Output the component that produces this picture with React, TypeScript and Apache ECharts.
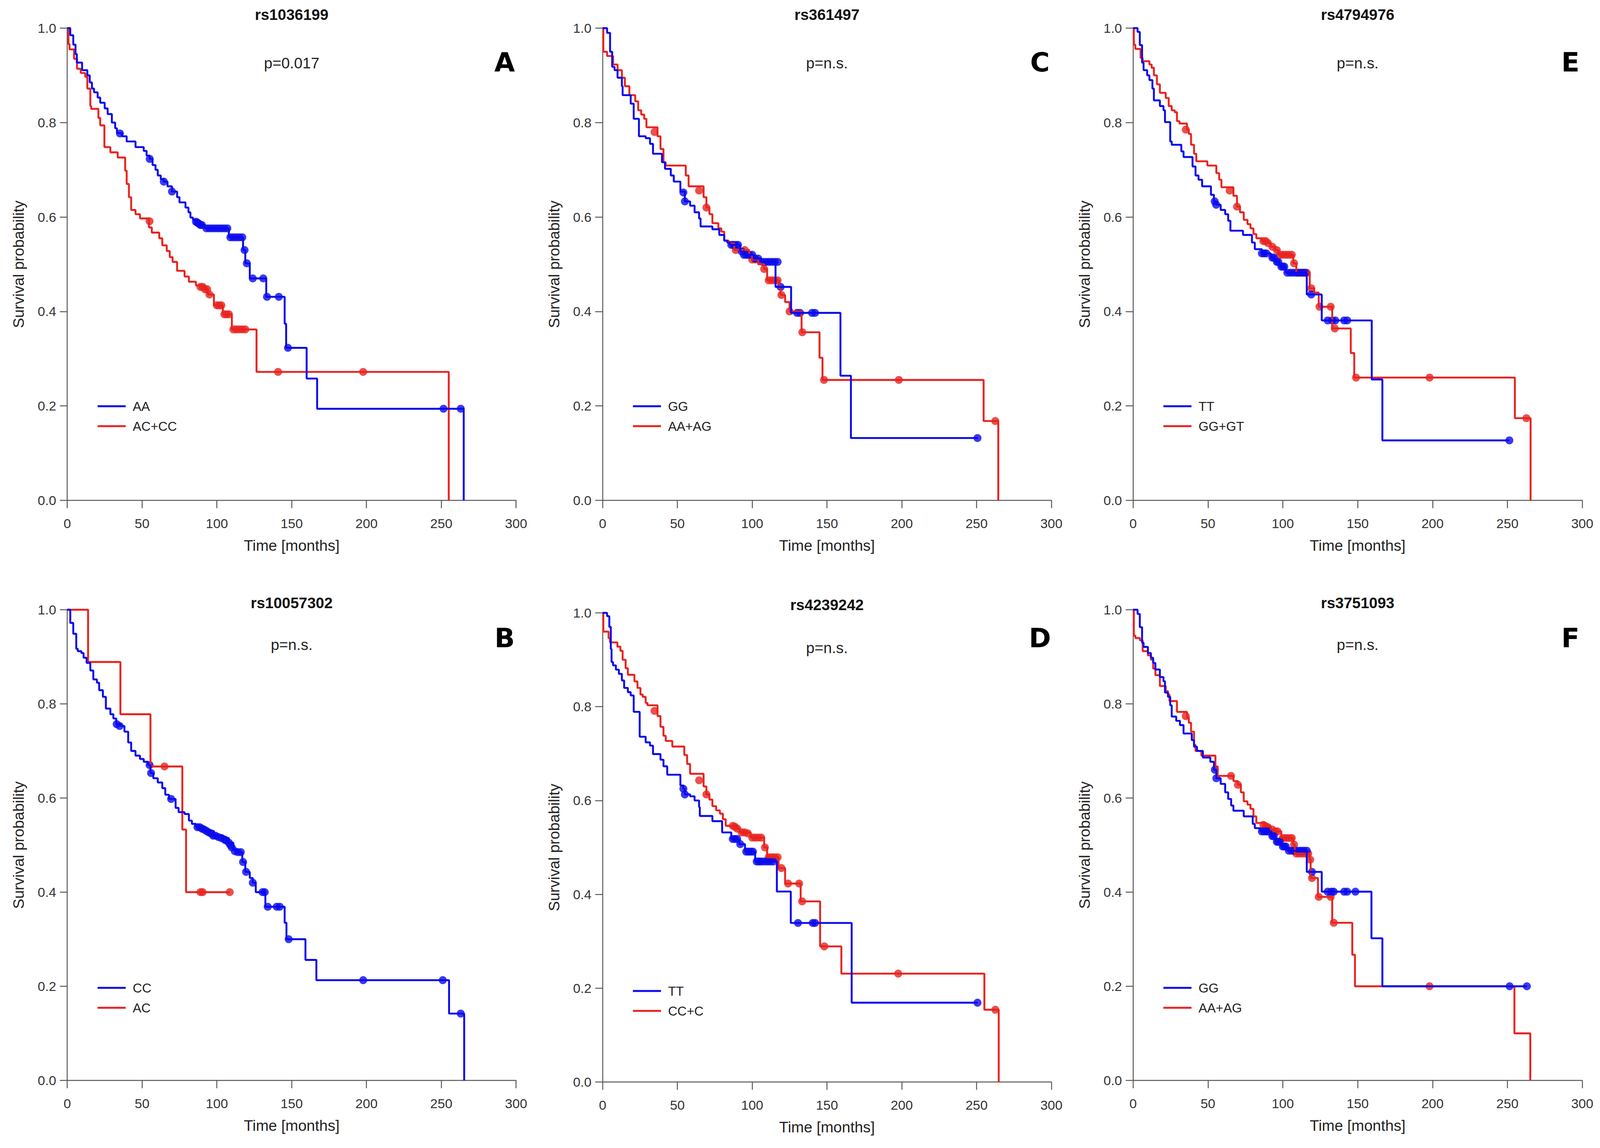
import React, { useEffect, useRef } from "react";
import * as echarts from "echarts";

const BLUE = "#0a0aee";
const RED = "#e8231f";
const FONT = "'Liberation Sans', Arial, sans-serif";
const REF_W = 4328;
const REF_H = 2939;

const xTicks = [0, 50, 100, 150, 200, 250, 300];
const yTicks = [0, 0.2, 0.4, 0.6, 0.8, 1.0];

// ---------- Panel A: rs1036199 ----------
const aBlue = [[0,1],[2,0.985],[4,0.965],[5.5,0.945],[6.4,0.927],[9.9,0.911],[13.4,0.9],[15,0.885],[16.5,0.872],[17.9,0.864],[20.3,0.853],[22,0.842],[25,0.83],[27,0.818],[29.8,0.8],[32,0.788],[33.2,0.778],[36.5,0.771],[39.7,0.76],[45.6,0.748],[51.1,0.74],[53,0.73],[55.1,0.723],[57,0.71],[59,0.7],[60.5,0.688],[62.5,0.68],[64.5,0.675],[67,0.665],[70,0.654],[73.4,0.642],[75,0.631],[79,0.62],[81,0.61],[82.3,0.599],[84,0.594],[87,0.588],[89,0.583],[92,0.576],[108,0.557],[117.5,0.53],[119,0.502],[122,0.47],[133,0.431],[145.3,0.374],[146.3,0.323],[160,0.258],[167,0.194],[265,0]];
const aBlueCens = [[35.2,0.777],[55.1,0.723],[64.5,0.675],[70,0.654],[86,0.59],[87,0.588],[88,0.586],[89,0.583],[90,0.583],[93,0.576],[95,0.576],[97,0.576],[99,0.576],[101,0.576],[103,0.576],[105,0.576],[107,0.576],[109,0.557],[111,0.557],[113,0.557],[115,0.557],[117,0.557],[118.5,0.53],[120,0.502],[124,0.47],[131,0.47],[133.5,0.431],[141.4,0.431],[147.5,0.323],[251.5,0.194],[263,0.194]];
const aRed = [[0,1],[0.8,0.966],[1.5,0.955],[4.5,0.935],[6.5,0.914],[9,0.905],[12,0.897],[13.4,0.872],[15.4,0.835],[16,0.829],[20.8,0.81],[22,0.794],[24.8,0.748],[28.8,0.737],[33.7,0.726],[38.7,0.698],[39.7,0.67],[41.2,0.642],[42.7,0.615],[45.6,0.606],[48.6,0.597],[54.6,0.578],[56.5,0.567],[61.5,0.555],[63.5,0.54],[66.5,0.528],[68.5,0.515],[70.4,0.505],[73.4,0.486],[78.4,0.474],[81.3,0.463],[86,0.455],[92,0.447],[94,0.436],[98,0.413],[104,0.394],[110,0.362],[126.5,0.272],[255,0]];
const aRedCens = [[55,0.591],[89,0.452],[90.5,0.452],[92,0.447],[93.5,0.447],[95,0.436],[100,0.413],[101.5,0.413],[103,0.413],[105,0.394],[106.5,0.394],[108,0.394],[111,0.362],[113,0.362],[115,0.362],[117,0.362],[119,0.362],[140.9,0.272],[197.8,0.272]];

// ---------- Panel C: rs361497 ----------
const cBlue = [[0,1],[1.5,1],[3,0.99],[5,0.95],[6.4,0.918],[8,0.911],[10,0.895],[12.9,0.877],[13.4,0.858],[18.8,0.84],[20.8,0.808],[24.3,0.771],[28.8,0.767],[31.7,0.755],[33.7,0.734],[39.7,0.716],[41.7,0.702],[45.6,0.688],[47.6,0.675],[52,0.654],[55,0.633],[58.5,0.624],[61.5,0.61],[64.5,0.597],[65.5,0.58],[73.4,0.574],[78,0.562],[81.3,0.55],[83.3,0.546],[85,0.541],[92,0.527],[95,0.52],[101,0.512],[106,0.505],[115.6,0.452],[126,0.397],[159,0.264],[166,0.132],[251,0.132]];
const cBlueCens = [[54,0.652],[55,0.633],[86,0.541],[87.5,0.541],[89,0.541],[90.5,0.541],[93,0.527],[94.5,0.52],[96,0.52],[98,0.52],[100,0.52],[102,0.512],[104,0.512],[107,0.505],[109,0.505],[111,0.505],[113,0.505],[115,0.505],[117,0.505],[119,0.452],[130,0.397],[132,0.397],[140,0.397],[142,0.397],[250.6,0.132]];
const cRed = [[0,1],[0.5,0.95],[3,0.941],[7,0.923],[10,0.911],[12.9,0.895],[14.9,0.877],[17.9,0.858],[21.8,0.845],[23.8,0.826],[25.8,0.817],[27.8,0.808],[29.3,0.79],[36.7,0.771],[38.7,0.744],[40.7,0.716],[42.2,0.709],[55.6,0.688],[57.5,0.665],[67.5,0.642],[69.4,0.62],[71.4,0.606],[73.4,0.587],[77.4,0.576],[79.4,0.569],[81.3,0.55],[84.3,0.544],[88,0.53],[98,0.52],[100,0.51],[104,0.5],[108,0.49],[110,0.466],[118,0.45],[119,0.435],[122,0.42],[125,0.4],[133,0.356],[145,0.302],[147,0.255],[254.7,0.168],[264.5,0]];
const cRedCens = [[34.7,0.78],[64.5,0.656],[69.4,0.62],[89,0.53],[95,0.53],[97,0.52],[100,0.51],[102,0.51],[108,0.49],[111,0.466],[113,0.466],[115,0.466],[117,0.466],[119.5,0.435],[125,0.4],[133.5,0.356],[148,0.255],[198,0.255],[262.5,0.168]];

// ---------- Panel E: rs4794976 ----------
const eBlue = [[0,1],[1.5,1],[3,0.992],[4.5,0.964],[6,0.927],[7,0.911],[9.4,0.9],[10.9,0.89],[12.9,0.872],[13.9,0.847],[17.9,0.835],[20.3,0.826],[21.3,0.801],[24.8,0.76],[25.8,0.753],[32.2,0.739],[33.7,0.727],[39.7,0.707],[41.7,0.688],[43.7,0.679],[46.1,0.665],[52,0.647],[54,0.633],[55.6,0.626],[58.5,0.615],[61.5,0.606],[63.5,0.592],[65,0.571],[73.4,0.562],[79.4,0.546],[81.3,0.532],[86,0.523],[92,0.514],[95,0.505],[98,0.495],[102,0.482],[116,0.436],[126,0.381],[159.4,0.256],[166.5,0.127],[251.3,0.127]];
const eBlueCens = [[54.5,0.633],[55.5,0.626],[86,0.523],[87.5,0.523],[89,0.523],[93,0.514],[94,0.514],[96,0.505],[97,0.505],[99,0.495],[100,0.495],[101,0.495],[103,0.482],[105,0.482],[107,0.482],[109,0.482],[111,0.482],[113,0.482],[115,0.482],[119,0.436],[130,0.381],[133,0.381],[135,0.381],[141,0.381],[143,0.381],[251.3,0.127]];
const eRed = [[0,1],[0.5,0.965],[1.5,0.956],[5,0.937],[6.4,0.93],[10.9,0.923],[12.4,0.916],[13.9,0.9],[15.9,0.881],[17.9,0.863],[21.8,0.852],[23.8,0.835],[25.8,0.826],[27.8,0.822],[29.3,0.803],[31,0.798],[36,0.785],[37.2,0.776],[38.7,0.753],[40.7,0.734],[42.2,0.718],[49.6,0.709],[55.6,0.693],[57.5,0.679],[59,0.663],[67,0.645],[69.4,0.622],[71.4,0.61],[73.9,0.594],[76.4,0.585],[78.4,0.576],[80.4,0.564],[82.3,0.555],[86,0.549],[90,0.545],[92,0.537],[95,0.53],[97,0.52],[107,0.502],[109,0.482],[118,0.449],[121,0.44],[124,0.41],[133,0.364],[145.4,0.312],[147.7,0.26],[255,0.174],[265.5,0]];
const eRedCens = [[35.2,0.785],[64.5,0.656],[69.4,0.622],[87,0.549],[88.5,0.549],[90,0.545],[93,0.537],[96,0.53],[98,0.52],[100,0.52],[102,0.52],[104,0.52],[106,0.52],[107.5,0.502],[110,0.482],[112,0.482],[114,0.482],[116,0.482],[119,0.449],[124.5,0.41],[132,0.41],[134.7,0.364],[148.9,0.26],[198,0.26],[262.7,0.174]];

// ---------- Panel B: rs10057302 ----------
const bBlue = [[0,1],[2,0.972],[4,0.949],[6,0.917],[7,0.912],[9.4,0.908],[10.9,0.898],[12.9,0.887],[15.4,0.871],[17.4,0.852],[19.8,0.845],[21.3,0.829],[23.8,0.815],[25.8,0.79],[28.8,0.778],[30.8,0.769],[32.7,0.757],[35.7,0.753],[38.2,0.741],[40.7,0.718],[42.7,0.7],[45.6,0.69],[48.6,0.683],[51.1,0.677],[54,0.67],[55.6,0.653],[57.5,0.642],[60.5,0.633],[63.5,0.621],[65.5,0.607],[68,0.598],[72.4,0.579],[74.4,0.57],[78.4,0.566],[81.3,0.552],[83.3,0.545],[86,0.538],[92,0.53],[98,0.52],[104,0.515],[108,0.505],[111,0.49],[113,0.485],[117,0.464],[119,0.443],[122,0.43],[124,0.42],[126,0.4],[132.4,0.369],[145.3,0.335],[146.5,0.3],[159.2,0.256],[166.5,0.213],[255.2,0.142],[265.3,0]];
const bBlueCens = [[33,0.757],[35,0.753],[55,0.67],[56,0.653],[69.4,0.598],[87,0.538],[88.5,0.538],[90,0.535],[91.5,0.533],[93,0.53],[94.5,0.527],[96,0.525],[97.5,0.52],[99,0.52],[101,0.517],[103,0.515],[105,0.512],[106,0.51],[108,0.505],[109,0.5],[110,0.495],[112,0.487],[114,0.485],[116,0.485],[117.5,0.464],[119.5,0.443],[124,0.42],[130.5,0.4],[132,0.4],[134,0.369],[140,0.369],[142,0.369],[148,0.3],[197.8,0.213],[251,0.213],[263,0.142]];
const bRed = [[0,1],[13.9,0.889],[35.5,0.778],[55.6,0.667],[76.9,0.533],[79.4,0.4],[108.6,0.4]];
const bRedCens = [[65,0.667],[89,0.4],[90.5,0.4],[108.6,0.4]];

// ---------- Panel D: rs4239242 ----------
const dBlue = [[0,1],[1.5,1],[3,0.993],[4.5,0.97],[5.5,0.923],[6,0.895],[7,0.888],[8.9,0.879],[10.9,0.87],[12.9,0.856],[14.4,0.84],[16.9,0.831],[18.8,0.824],[20.8,0.789],[24.8,0.736],[28.8,0.724],[31.7,0.717],[33.7,0.699],[38.7,0.687],[40.7,0.673],[43.2,0.655],[52,0.632],[54,0.625],[55,0.613],[58.5,0.609],[61.5,0.6],[64.5,0.586],[65,0.567],[73.4,0.556],[79.9,0.532],[86,0.518],[91.3,0.507],[95.2,0.491],[102,0.47],[116.5,0.406],[125.8,0.339],[166.5,0.169],[250.6,0.169]];
const dBlueCens = [[54,0.625],[55,0.613],[87,0.518],[88.5,0.518],[90,0.518],[92,0.507],[96,0.491],[97.5,0.491],[99,0.491],[100.5,0.491],[103,0.47],[104.5,0.47],[106,0.47],[108,0.47],[110,0.47],[112,0.47],[114,0.47],[130.6,0.339],[140.5,0.339],[142,0.339],[250.6,0.169]];
const dRed = [[0,1],[0.5,0.96],[4,0.946],[5,0.937],[9.9,0.928],[11.9,0.919],[13.4,0.9],[15.4,0.882],[16.9,0.868],[21.3,0.854],[23.3,0.84],[25.3,0.826],[26.8,0.821],[28.8,0.808],[30,0.803],[36.7,0.78],[38.7,0.757],[40.7,0.738],[42.2,0.727],[46.6,0.715],[54.6,0.697],[56.5,0.678],[58.5,0.657],[67.5,0.63],[69.4,0.613],[71.4,0.602],[73.4,0.588],[75.9,0.579],[78.4,0.572],[80.4,0.56],[82.3,0.546],[90,0.54],[92,0.532],[99,0.521],[108,0.5],[110,0.479],[117.6,0.456],[122,0.423],[132.4,0.385],[145.4,0.289],[159.6,0.231],[255.2,0.154],[264.8,0]];
const dRedCens = [[34.7,0.791],[64.5,0.643],[69.4,0.613],[87,0.546],[88.5,0.544],[90,0.54],[93,0.532],[95,0.532],[97,0.53],[100,0.521],[102,0.521],[104,0.521],[106,0.521],[108.5,0.5],[111,0.479],[113,0.479],[115,0.479],[117,0.479],[119.5,0.456],[124,0.423],[131.4,0.423],[133.4,0.385],[148.2,0.289],[197.6,0.231],[262.5,0.154]];

// ---------- Panel F: rs3751093 ----------
const fBlue = [[0,1],[2,1],[3,0.991],[4.5,0.963],[6,0.93],[7,0.921],[9.9,0.908],[11.9,0.898],[13.4,0.887],[14.9,0.873],[17.9,0.857],[20.3,0.848],[21.3,0.824],[23.3,0.815],[24.8,0.797],[25.8,0.773],[28.8,0.764],[31.3,0.755],[33.7,0.737],[39.2,0.723],[40.7,0.709],[42.7,0.7],[46.6,0.686],[51.6,0.677],[54,0.66],[55.6,0.642],[58.5,0.63],[61.5,0.612],[63.5,0.598],[65.5,0.584],[67,0.573],[73.9,0.561],[79.9,0.545],[81.3,0.536],[85,0.529],[92,0.519],[95,0.507],[99,0.497],[103,0.488],[116,0.443],[126,0.401],[159.2,0.302],[166.5,0.2],[263,0.2]];
const fBlueCens = [[54.6,0.66],[55.6,0.642],[86,0.529],[87.5,0.529],[89,0.529],[90.5,0.529],[93,0.519],[94,0.519],[96,0.507],[97,0.507],[98,0.507],[100,0.497],[101,0.497],[102,0.497],[104,0.488],[106,0.488],[108,0.488],[110,0.488],[112,0.488],[114,0.488],[116,0.488],[119.5,0.443],[130,0.401],[132.5,0.401],[134,0.401],[141,0.401],[143,0.401],[148.5,0.401],[251.5,0.2],[263,0.2]];
const fRed = [[0,1],[0.5,0.945],[1.5,0.94],[4.5,0.935],[6.4,0.912],[9.9,0.903],[11.9,0.894],[13.4,0.875],[14.9,0.861],[17.9,0.838],[21.8,0.827],[23.3,0.82],[24.3,0.806],[29.3,0.783],[36,0.771],[37.2,0.76],[38.7,0.741],[40.7,0.713],[41.7,0.7],[45.6,0.69],[55,0.667],[56.5,0.647],[67,0.636],[70,0.628],[72,0.612],[73.9,0.593],[76.4,0.586],[78.4,0.577],[80.4,0.561],[82.3,0.547],[88,0.54],[92,0.533],[95,0.529],[99,0.515],[107,0.501],[108,0.482],[118,0.469],[118.6,0.43],[123.5,0.39],[133,0.335],[146.4,0.267],[148.2,0.2],[254.7,0.1],[265.3,0]];
const fRedCens = [[35.2,0.774],[65.4,0.647],[70,0.628],[87,0.543],[88.5,0.54],[90,0.538],[93,0.533],[95,0.529],[96.5,0.529],[100,0.515],[102,0.515],[104,0.515],[106,0.515],[107.5,0.501],[109,0.482],[111,0.482],[113,0.482],[115,0.482],[117,0.482],[118.3,0.469],[119.5,0.43],[124,0.39],[132,0.39],[134,0.335],[198,0.2]];

const titles = ["rs1036199", "rs361497", "rs4794976", "rs10057302", "rs4239242", "rs3751093"];
const pValues = ["p=0.017", "p=n.s.", "p=n.s.", "p=n.s.", "p=n.s.", "p=n.s."];
const letters = ["A", "C", "E", "B", "D", "F"];
const blueNames = ["AA", "GG", "TT", "CC", "TT", "GG"];
const redNames = ["AC+CC", "AA+AG", "GG+GT", "AC", "CC+C", "AA+AG"];
const blueCurves = [aBlue, cBlue, eBlue, bBlue, dBlue, fBlue];
const blueCensored = [aBlueCens, cBlueCens, eBlueCens, bBlueCens, dBlueCens, fBlueCens];
const redCurves = [aRed, cRed, eRed, bRed, dRed, fRed];
const redCensored = [aRedCens, cRedCens, eRedCens, bRedCens, dRedCens, fRedCens];

// layout in reference pixels (scaled to the actual viewport at runtime)
const boxes = [
  { left: 182, top: 72, width: 1214, height: 1209 },
  { left: 1630, top: 72, width: 1214, height: 1209 },
  { left: 3065, top: 72, width: 1215, height: 1209 },
  { left: 182, top: 1561, width: 1214, height: 1205 },
  { left: 1630, top: 1569, width: 1214, height: 1201 },
  { left: 3065, top: 1561, width: 1215, height: 1205 },
];
const titleY = [37, 37, 37, 1543, 1548, 1543];
const letterY = [159, 159, 159, 1633, 1633, 1633];

export default function App() {
  const ref = useRef<HTMLDivElement>(null);
  useEffect(() => {
    const el = ref.current;
    if (!el) return;
    const cw = el.clientWidth || REF_W;
    const chH = el.clientHeight || REF_H;
    const sx = cw / REF_W;
    const sy = chH / REF_H;
    const s = (sx + sy) / 2;
    const chart = echarts.init(el, undefined, { renderer: "svg", width: cw, height: chH });
    const grids: any[] = [];
    const xAxes: any[] = [];
    const yAxes: any[] = [];
    const series: any[] = [];
    const graphics: any[] = [];
    const axisColor = "#555";
    boxes.forEach((b0, i) => {
      const b = { left: b0.left * sx, top: b0.top * sy, width: b0.width * sx, height: b0.height * sy };
      grids.push({ left: b.left, top: b.top, width: b.width, height: b.height, containLabel: false });
      xAxes.push({
        type: "value", gridIndex: i, min: 0, max: 300, interval: 50,
        axisLine: { show: true, onZero: false, lineStyle: { color: axisColor, width: 2.5 * s } },
        axisTick: { show: true, length: 20 * sy, inside: false, lineStyle: { color: axisColor, width: 2.5 * s } },
        axisLabel: { fontSize: 35 * s, color: "#333", margin: 42 * sy, fontFamily: FONT },
        splitLine: { show: false },
        name: "Time [months]", nameLocation: "middle", nameGap: 96 * sy,
        nameTextStyle: { fontSize: 40 * s, color: "#222", fontFamily: FONT },
      });
      yAxes.push({
        type: "value", gridIndex: i, min: 0, max: 1, interval: 0.2,
        axisLine: { show: true, onZero: false, lineStyle: { color: axisColor, width: 2.5 * s } },
        axisTick: { show: true, length: 20 * sx, inside: false, lineStyle: { color: axisColor, width: 2.5 * s } },
        axisLabel: { fontSize: 35 * s, color: "#333", margin: 30 * sx, fontFamily: FONT, formatter: (v: number) => v.toFixed(1) },
        splitLine: { show: false },
        name: "Survival probability", nameLocation: "middle", nameGap: 111 * sx,
        nameTextStyle: { fontSize: 40 * s, color: "#222", fontFamily: FONT },
      });
      const lineBase = { type: "line", step: "end", xAxisIndex: i, yAxisIndex: i, showSymbol: false, symbol: "none", silent: true, clip: false };
      series.push({ ...lineBase, name: redNames[i], data: redCurves[i], lineStyle: { color: RED, width: 5 * s }, itemStyle: { color: RED } });
      series.push({ ...lineBase, name: blueNames[i], data: blueCurves[i], lineStyle: { color: BLUE, width: 5 * s }, itemStyle: { color: BLUE } });
      series.push({ type: "scatter", xAxisIndex: i, yAxisIndex: i, data: redCensored[i], symbol: "circle", symbolSize: 21 * s, itemStyle: { color: RED }, silent: true });
      series.push({ type: "scatter", xAxisIndex: i, yAxisIndex: i, data: blueCensored[i], symbol: "circle", symbolSize: 21 * s, itemStyle: { color: BLUE }, silent: true });

      const cx = b.left + b.width / 2;
      graphics.push({ type: "text", x: cx, y: titleY[i] * sy, style: { text: titles[i], fontSize: 40 * s, fontWeight: "bold", fontFamily: FONT, fill: "#111", align: "center", verticalAlign: "middle" } });
      graphics.push({ type: "text", x: cx, y: b.top + 89 * sy, style: { text: pValues[i], fontSize: 40 * s, fontFamily: FONT, fill: "#222", align: "center", verticalAlign: "middle" } });
      graphics.push({ type: "text", x: b.left + 1183 * sx, y: letterY[i] * sy, style: { text: letters[i], fontSize: 70 * s, fontWeight: "bold", fontFamily: "'DejaVu Sans', sans-serif", fill: "#000", align: "center", verticalAlign: "middle" } });
      const ly1 = b.top + 968 * sy, ly2 = b.top + 1019 * sy;
      graphics.push({ type: "line", shape: { x1: b.left + 82 * sx, y1: ly1, x2: b.left + 158 * sx, y2: ly1 }, style: { stroke: BLUE, lineWidth: 5 * s } });
      graphics.push({ type: "line", shape: { x1: b.left + 82 * sx, y1: ly2, x2: b.left + 158 * sx, y2: ly2 }, style: { stroke: RED, lineWidth: 5 * s } });
      graphics.push({ type: "text", x: b.left + 177 * sx, y: ly1, style: { text: blueNames[i], fontSize: 34 * s, fontFamily: FONT, fill: "#222", align: "left", verticalAlign: "middle" } });
      graphics.push({ type: "text", x: b.left + 177 * sx, y: ly2, style: { text: redNames[i], fontSize: 34 * s, fontFamily: FONT, fill: "#222", align: "left", verticalAlign: "middle" } });
    });
    chart.setOption({
      animation: false,
      backgroundColor: "#ffffff",
      textStyle: { fontFamily: FONT },
      grid: grids,
      xAxis: xAxes,
      yAxis: yAxes,
      series,
      graphic: graphics,
    });
    return () => chart.dispose();
  }, []);
  return (
    <div
      ref={ref}
      style={{ position: "fixed", left: 0, top: 0, width: "100vw", height: "100vh", background: "#fff", overflow: "hidden" }}
    />
  );
}
